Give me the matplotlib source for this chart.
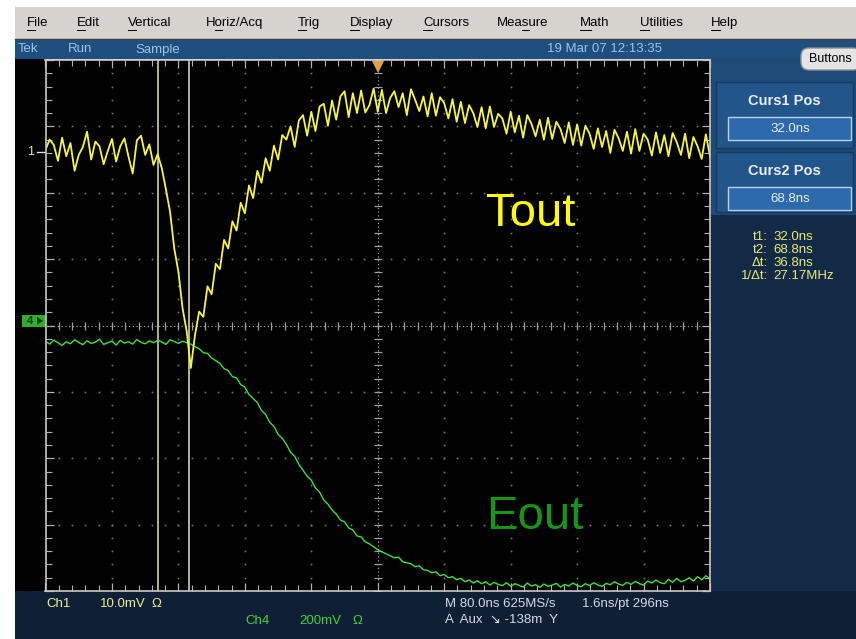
import numpy as np
import matplotlib.pyplot as plt
from matplotlib.patches import Rectangle, FancyBboxPatch, Polygon

W, H = 856, 639

# acquisition settings
ns_per_div = 80.0
h_pos = 296.0
sample_ns = 5.0
t_start = h_pos - 5 * ns_per_div

ch1_mv_div = 10.0
ch4_mv_div = 200.0
ch1_pos = 2.61   # divisions above centre
ch4_pos = 0.07

curs1 = 32.0
curs2 = 68.8

# Ch1 (Tout), mV
tout_mv = [
    0.4, 1.9, 1.1, -1.3, 2.2, -0.6, 1.4, -2.8, -0.4, 0.8, 3.1, -1.1, 1.6,
    0.9, -1.8, 0.2, 2.0, -1.4, 0.9, 2.1, -0.7, -3.2, 1.8, 2.5, -0.4, 1.2,
    -1.9,
    -0.3, -2.4, -5.6, -9.0, -14.5, -18.0, -23.5, -27.0, -32.5,
    -27.5, -24.0, -24.8, -20.2, -21.4, -16.8, -17.6, -13.2, -14.5, -10.4,
    -11.8, -7.6, -9.2, -5.0, -6.9, -2.8, -4.6, -0.9, -2.8, 1.0,
    -1.1, 2.6, 1.9, 3.9, 0.8, 4.8, 5.6, 2.5, 6.1, 3.2, 6.9, 7.3, 4.0, 7.8,
    4.9, 8.4, 9.2, 5.3, 8.9, 5.9, 9.3, 6.0, 7.1, 9.6,
    6.1, 9.4, 5.9, 8.2, 9.2, 6.8, 8.9, 5.6, 9.5, 7.9, 6.2, 8.4, 5.4, 8.9,
    5.5, 8.3, 7.4, 5.1, 8.0, 4.6,
    7.6, 4.4, 7.1, 5.9, 3.8, 6.8, 3.6, 6.9, 3.8, 5.8, 5.1, 2.8, 6.1, 3.0,
    5.5, 2.2, 5.6, 4.3, 2.4, 4.9,
    1.9, 5.2, 2.0, 4.6, 3.5, 1.4, 4.5, 1.1, 4.2, 1.0, 4.0, 2.8, 0.5, 3.6,
    0.8, 3.2, -0.1, 3.4, 2.1, 0.2,
    3.1, -0.2, 3.5, 0.2, 2.8, 1.9, -0.5, 3.0, -0.1, 2.6, -0.6, 2.9, 1.5,
    -0.4, 2.8, -0.9, 2.3, 0.9, -1.0, 2.7, -0.6,
]

# Ch4 (Eout), mV
eout_mv = [
    -62, -70, -58, -66, -74, -63, -69, -57, -65, -72, -60, -68, -64, -55,
    -71, -66, -61, -73, -59, -67, -63, -70, -56, -65, -69, -60, -66, -58,
    -64, -71, -57, -62, -68, -61, -66, -70,
    -78, -84, -96, -98, -112, -120, -128, -144, -150, -168, -172, -192,
    -200, -222, -234, -246, -270, -282, -306, -318, -342, -354, -372, -396,
    -408, -432, -450, -468, -480, -504, -516, -540, -552, -570, -582, -600,
    -606, -624, -630, -648, -651, -666, -672, -681, -690,
    -696, -702, -708, -714, -712, -726, -729, -732, -741, -738,
    -750, -752, -759, -756, -768, -764, -774, -771, -780, -776,
    -786, -781, -790, -783, -792, -786, -796, -788, -794, -798,
    -789, -800, -792, -797, -802, -790, -799, -795, -803, -793,
    -800, -796, -791, -802, -794, -799, -790, -797, -801, -792,
    -798, -789, -796, -800, -791, -795, -786, -793, -797, -788,
    -794, -785, -792, -796, -784, -790, -781, -789, -792, -779,
    -788, -776, -786, -782, -774, -784, -771, -780, -768, -777,
]

menu_items = ["File", "Edit", "Vertical", "Horiz/Acq", "Trig", "Display",
              "Cursors", "Measure", "Math", "Utilities", "Help"]
menu_x = [27, 77, 128, 206, 298, 350, 423, 497, 580, 640, 711]
# mnemonic underline: offset and width in px
menu_ul = [(0, 8), (0, 8.5), (0, 8.5), (9.5, 7), (0, 8), (0, 9.5),
           (0, 9.5), (25.5, 6.5), (0, 11), (0, 9.5), (0, 9.5)]

plt.rcParams['font.family'] = ['Liberation Sans', 'DejaVu Sans']

fig = plt.figure(figsize=(W / 100, H / 100), dpi=100)
fig.patch.set_facecolor('white')

# pixel-space layer for the instrument frame
bg = fig.add_axes([0, 0, 1, 1])
bg.set_xlim(0, W)
bg.set_ylim(H, 0)
bg.axis('off')


def box(x0, y0, x1, y1, color, **kw):
    bg.add_patch(Rectangle((x0, y0), x1 - x0, y1 - y0, facecolor=color,
                           edgecolor=kw.pop('edgecolor', 'none'), **kw))


# menu bar
box(15, 7, W, 39, '#d6d3ce')
bg.plot([15, W], [38.5, 38.5], color='#404040', lw=1)
for name, x, (off, w) in zip(menu_items, menu_x, menu_ul):
    bg.text(x, 23, name, fontsize=9.5, color='black', va='center', ha='left')
    bg.plot([x + off, x + off + w], [29.5, 29.5], color='black', lw=0.7)

# status bar
box(15, 39, W, 59, '#1f4f7e')
status_col = '#9cc4ea'
bg.text(18, 49.5, "Tek", fontsize=9.5, color=status_col, va='center')
bg.text(68, 49.5, "Run", fontsize=9.5, color=status_col, va='center')
bg.text(135, 49.5, "Sample", fontsize=9.5, color=status_col, va='center')
bg.text(547, 49.5, "19 Mar 07 12:13:35", fontsize=9.5, color=status_col,
        va='center')

# left strip, right panel and bottom strip
box(15, 59, 46, 592, 'black')
box(710, 59, W, 215, '#1d4a77')
box(710, 215, W, 592, '#122a45')
box(15, 591, W, H, '#0f2034')

bg.add_patch(FancyBboxPatch((801, 48), 60, 22,
                            boxstyle="round,pad=0,rounding_size=8",
                            facecolor='#e4e4e4', edgecolor='#909090', lw=1))
bg.text(830, 59, "Buttons", fontsize=9, color='black', ha='center',
        va='center')

for (y0, y1, title, val) in [(82, 148, "Curs1 Pos", curs1),
                             (152, 212, "Curs2 Pos", curs2)]:
    box(716, y0, 853, y1, '#22558a', edgecolor='#163a60', lw=1)
    bg.text(784, y0 + 19, title, fontsize=10.5, fontweight='bold',
            color='#e8eef5', ha='center', va='center')
    box(728, y0 + 35, 851, y0 + 58, '#2c6aab', edgecolor='#b8d0ea', lw=1)
    bg.text(790, y0 + 47, "{:.1f}ns".format(val), fontsize=9.5,
            color='#e8eef5', ha='center', va='center')

dt = curs2 - curs1
readout = [("t1:", "{:.1f}ns".format(curs1)),
           ("t2:", "{:.1f}ns".format(curs2)),
           ("\u0394t:", "{:.1f}ns".format(dt)),
           ("1/\u0394t:", "{:.2f}MHz".format(1e3 / dt))]
for i, (lab, val) in enumerate(readout):
    y = 237 + 13 * i
    bg.text(768, y, lab, fontsize=9.5, color='#eaea78', ha='right',
            va='center')
    bg.text(773, y, val, fontsize=9.5, color='#eaea78', ha='left',
            va='center')

# channel / timebase readouts
bg.text(46, 604, "Ch1", fontsize=9.5, color='#eeee9a', va='center')
bg.text(100, 604, "{:.1f}mV".format(ch1_mv_div), fontsize=9.5,
        color='#eeee9a', va='center')
bg.text(151, 604, "\u03a9", fontsize=9.5, color='#eeee9a', va='center')
bg.text(245, 621, "Ch4", fontsize=9.5, color='#44d044', va='center')
bg.text(299, 621, "{:.0f}mV".format(ch4_mv_div), fontsize=9.5,
        color='#44d044', va='center')
bg.text(352, 621, "\u03a9", fontsize=9.5, color='#44d044', va='center')
tb_col = '#d4dbe6'
bg.text(445, 604, "M {:.1f}ns 625MS/s".format(ns_per_div), fontsize=9.5,
        color=tb_col, va='center')
bg.text(582, 604, "1.6ns/pt {:.0f}ns".format(h_pos), fontsize=9.5,
        color=tb_col, va='center')
bg.text(445, 620, "A  Aux  \u2198 -138m  Y", fontsize=9.5, color=tb_col,
        va='center')

# channel ground markers
y1_px = 325.5 - ch1_pos * 66.4
bg.text(31, y1_px, "1", fontsize=9, color='#e6e6cf', ha='center',
        va='center')
bg.plot([37, 45], [y1_px, y1_px], color='#e6e6cf', lw=1)
y4_px = 325.5 - ch4_pos * 66.4
box(22, y4_px - 6, 46, y4_px + 6, '#2fae2f')
bg.text(30, y4_px, "4", fontsize=8, color='#0c3d0c', ha='center',
        va='center', fontweight='bold')
bg.add_patch(Polygon([[37, y4_px - 4], [43, y4_px], [37, y4_px + 4]],
                     closed=True, facecolor='#0c3d0c', edgecolor='none'))

# graticule
ax = fig.add_axes([45.5 / W, 1 - 591 / H, 664.5 / W, 531 / H])
ax.set_facecolor('black')
x_lo, x_hi = t_start, t_start + 10 * ns_per_div
ax.set_xlim(x_lo, x_hi)
ax.set_ylim(-4, 4)

grid_col = '#777777'
minor_x = np.arange(x_lo, x_hi + 1e-6, ns_per_div / 5)
minor_y = np.arange(-4, 4 + 1e-6, 0.2)
for i in range(1, 10):
    xv = x_lo + i * ns_per_div
    if i == 5:
        continue
    ax.plot(np.full_like(minor_y, xv), minor_y, ls='none', marker='s',
            ms=1.2, color=grid_col, mew=0)
for j in range(-3, 4):
    if j == 0:
        continue
    ax.plot(minor_x, np.full_like(minor_x, j), ls='none', marker='s',
            ms=1.2, color=grid_col, mew=0)

# centre cross with tick marks
ax.axhline(0, color='#9a9a9a', lw=0.9, ls=(0, (1, 2)))
ax.axvline(h_pos, color='#9a9a9a', lw=0.9, ls=(0, (1, 2)))
ax.plot(minor_x, np.zeros_like(minor_x), ls='none', marker='|', ms=6,
        color='#a0a0a0', mew=0.9)
ax.plot(np.full_like(minor_y, h_pos), minor_y, ls='none', marker='_',
        ms=6, color='#a0a0a0', mew=0.9)

ax.set_xticks(np.arange(x_lo, x_hi + 1e-6, ns_per_div))
ax.set_xticks(minor_x, minor=True)
ax.set_yticks(np.arange(-4, 5, 1))
ax.set_yticks(minor_y, minor=True)
ax.tick_params(which='both', direction='in', top=True, right=True,
               labelbottom=False, labelleft=False, colors='#b4b4b4')
ax.tick_params(which='major', length=6, width=0.9)
ax.tick_params(which='minor', length=4, width=0.8)
for sp in ax.spines.values():
    sp.set_color('#c8c8c8')
    sp.set_linewidth(1.2)

# cursors
ax.axvline(curs1, color='#d4cfb0', lw=1.2)
ax.axvline(curs2, color='#d4cfb0', lw=1.2)

# traces
t = t_start + sample_ns * np.arange(len(tout_mv))
ax.plot(t, np.array(eout_mv) / ch4_mv_div + ch4_pos, color='#3ee03e',
        lw=1.0)
ax.plot(t, np.array(tout_mv) / ch1_mv_div + ch1_pos, color='#f6f640',
        lw=1.3)

# trigger position marker
ax.plot([h_pos], [3.9], marker='v', ms=9, color='#e8a040', mew=0,
        clip_on=False)

bg.set_zorder(0)
ax.set_zorder(1)
ax.text(0.663, 0.71, "Tout", transform=ax.transAxes, fontsize=34,
        color='#ffff00', ha='left', va='center')
ax.text(0.663, 0.14, "Eout", transform=ax.transAxes, fontsize=34,
        color='#169616', ha='left', va='center')

fig.savefig('out.png', dpi=100)
